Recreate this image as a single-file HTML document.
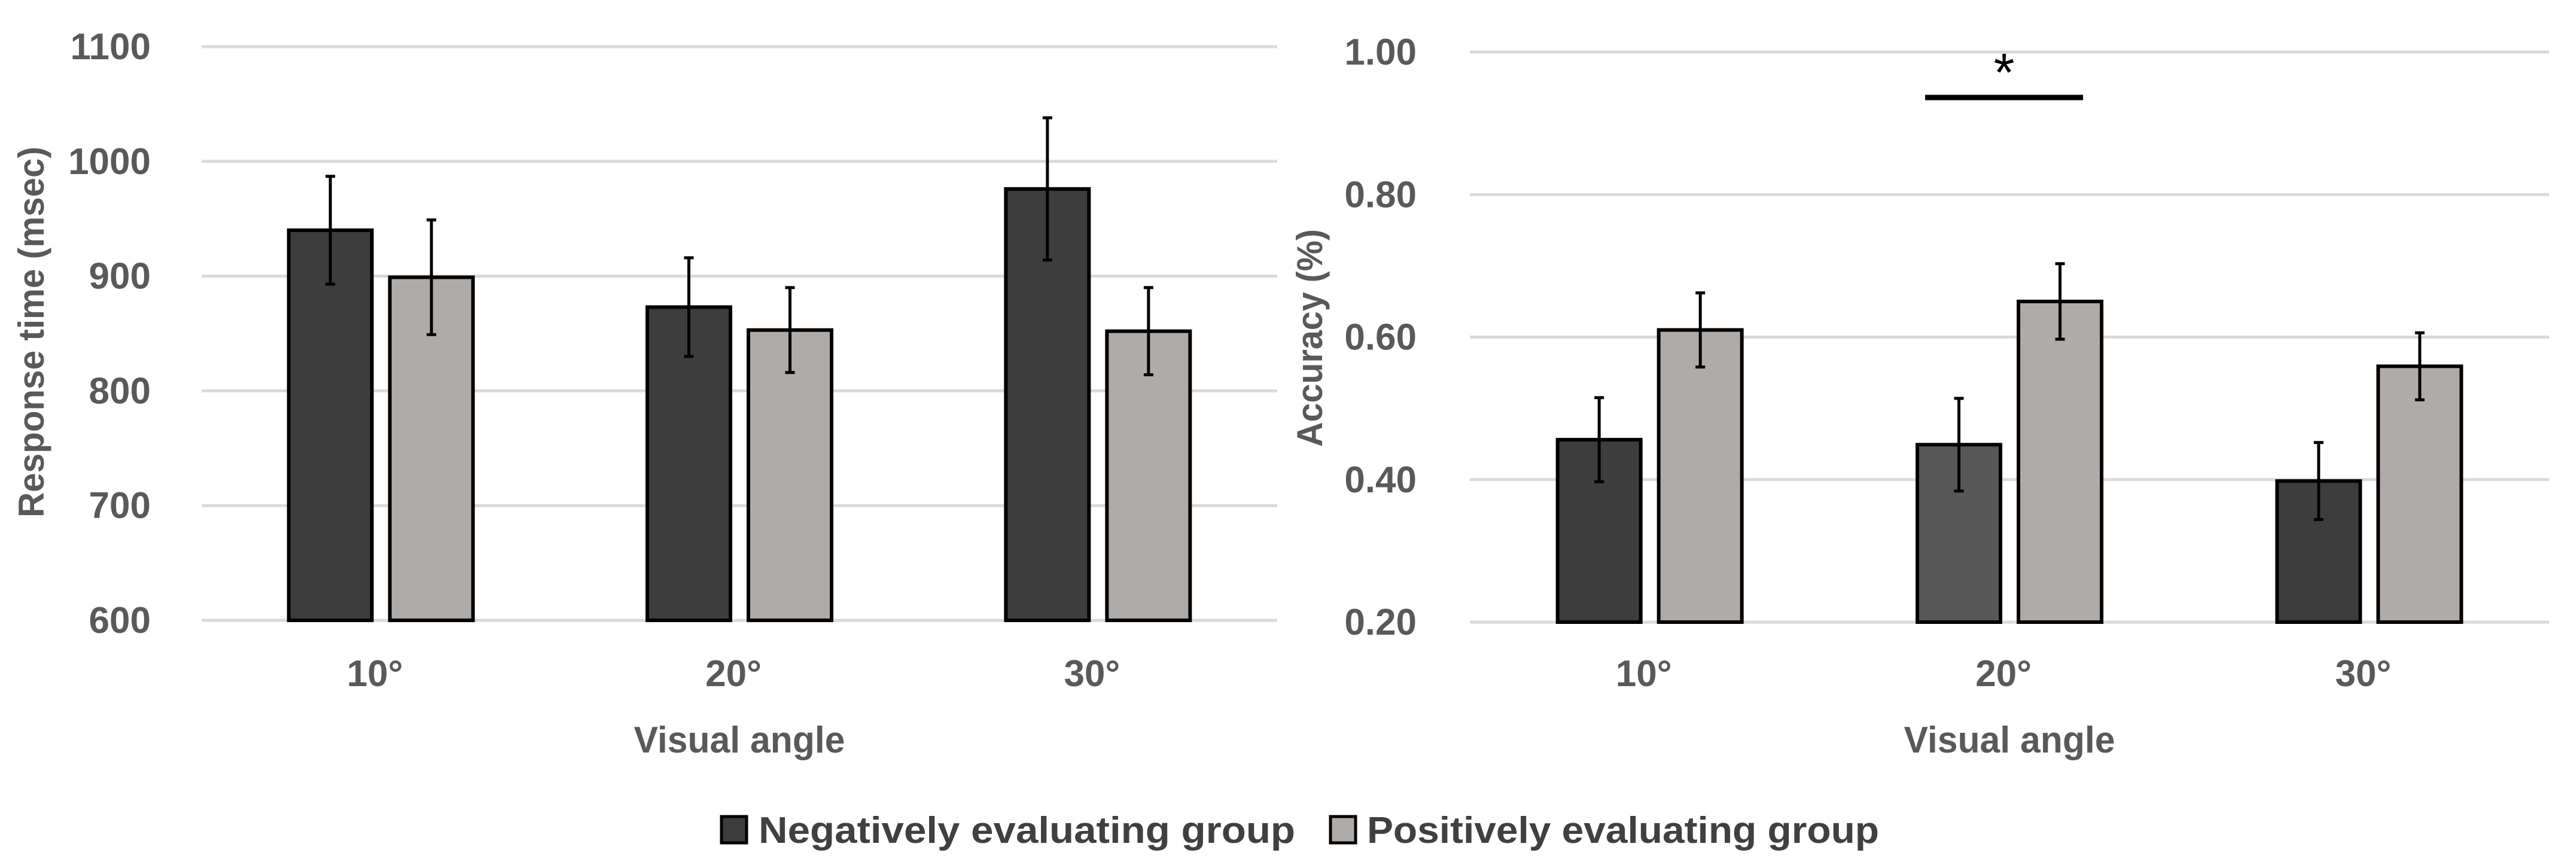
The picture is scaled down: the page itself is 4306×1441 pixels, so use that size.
<!DOCTYPE html>
<html><head><meta charset="utf-8"><style>
html,body{margin:0;padding:0;background:#fff;}
svg{display:block;font-family:"Liberation Sans",sans-serif;}
</style></head><body>
<svg id="c" width="4306" height="1441" viewBox="0 0 4306 1441"></svg>
<script>
const categories = ["10°","20°","30°"];
const rtNeg = [940, 873, 976];
const rtNegErr = [47, 43, 62];
const rtPos = [899, 853, 852];
const rtPosErr = [50, 37, 38];
const accNeg = [0.456, 0.449, 0.398];
const accNegErr = [0.059, 0.065, 0.054];
const accPos = [0.610, 0.650, 0.559];
const accPosErr = [0.052, 0.053, 0.047];
const rtTicks = [600, 700, 800, 900, 1000, 1100];
const accTicks = [0.2, 0.4, 0.6, 0.8, 1.0];
const accNegColors = ["#3d3d3d", "#575757", "#3d3d3d"];

const svg = document.getElementById('c');
const NS = "http://www.w3.org/2000/svg";
function mk(tag, attrs, parent){const e=document.createElementNS(NS,tag);for(const k in attrs)e.setAttribute(k,attrs[k]);(parent||svg).appendChild(e);return e;}

function drawPanel(p){
  const g = mk('g',{});
  
  
  const y = v => p.y0 - (v - p.min)/(p.max - p.min)*(p.y0 - p.y1);
  const cw = (p.x1 - p.x0)/categories.length;
  const cx = i => p.x0 + cw*(i+0.5);
  p.ticks.forEach(t=>{
    const l = mk('line',{x1:p.x0,x2:p.x1,y1:y(t),y2:y(t),stroke:'#d9d9d9','stroke-width':5},g);
    
    
    const tx = mk('text',{x:p.tickX,y:y(t)+21,'text-anchor':'end','font-size':62,'font-weight':'bold',fill:'#595959'},g);
    tx.textContent = p.fmt(t);
    
    
  });
  const bw = 139, gap = 15;
  function bar(i, v, e, fill, side){
    const x = side<0 ? cx(i)-gap-bw : cx(i)+gap;
    const r = mk('rect',{x:x,y:y(v),width:bw,height:y(p.min)-y(v),fill:fill,stroke:'#000','stroke-width':6},g);
    
    
    const m = x+bw/2;
    const eg = mk('g',{stroke:'#000','stroke-width':5},g);
    
    
    mk('line',{x1:m,x2:m,y1:y(v+e),y2:y(v-e)},eg);
    mk('line',{x1:m-8,x2:m+8,y1:y(v+e),y2:y(v+e)},eg);
    mk('line',{x1:m-8,x2:m+8,y1:y(v-e),y2:y(v-e)},eg);
  }
  categories.forEach((c,i)=>{
    bar(i,p.neg[i],p.negErr[i],p.negColors[i],-1);
    bar(i,p.pos[i],p.posErr[i],'#afaba8',1);
    const t = mk('text',{x:cx(i)-10,y:1147,'text-anchor':'middle','font-size':62,'font-weight':'bold',fill:'#595959'},g);
    t.textContent = c;
    
    
  });
  const xt = mk('text',{x:(p.x0+p.x1)/2,y:1258,'text-anchor':'middle','font-size':62,'font-weight':'bold',fill:'#595959',textLength:353,lengthAdjust:'spacingAndGlyphs'},g);
  xt.textContent = 'Visual angle';
  
  
  const yt = mk('text',{x:0,y:0,'text-anchor':'middle','font-size':60,'font-weight':'bold',fill:'#595959',textLength:p.ytLen,lengthAdjust:'spacingAndGlyphs',transform:`translate(${p.ytX},${p.ytY}) rotate(-90)`},g);
  yt.textContent = p.ytitle;
  
  
}

drawPanel({name:'response-time-panel',x0:337,x1:2135,y0:1037,y1:78,min:600,max:1100,ticks:rtTicks,fmt:t=>String(t),tickX:252,
  neg:rtNeg,negErr:rtNegErr,pos:rtPos,posErr:rtPosErr,negColors:["#3d3d3d","#3d3d3d","#3d3d3d"],ytitle:'Response time (msec)',ytX:73,ytY:555,ytLen:620});
drawPanel({name:'accuracy-panel',x0:2457,x1:4261,y0:1040,y1:87,min:0.2,max:1.0,ticks:accTicks,fmt:t=>t.toFixed(2),tickX:2368,
  neg:accNeg,negErr:accNegErr,pos:accPos,posErr:accPosErr,negColors:accNegColors,ytitle:'Accuracy (%)',ytX:2210,ytY:565,ytLen:364});

const sig = mk('line',{x1:3218,x2:3482,y1:163,y2:163,stroke:'#000','stroke-width':9});


const ast = mk('text',{x:3350,y:152,'text-anchor':'middle','font-size':90,fill:'#000'});
ast.textContent='*';



const lg = mk('g',{});


const l1 = mk('rect',{x:1206,y:1365,width:42,height:44,fill:'#3d3d3d',stroke:'#000','stroke-width':5},lg);


const t1 = mk('text',{x:1268,y:1409,'font-size':62,'font-weight':'bold',fill:'#404040',textLength:897,lengthAdjust:'spacingAndGlyphs'},lg);
t1.textContent='Negatively evaluating group';


const l2 = mk('rect',{x:2224,y:1365,width:42,height:44,fill:'#afaba8',stroke:'#000','stroke-width':5},lg);


const t2 = mk('text',{x:2285,y:1409,'font-size':62,'font-weight':'bold',fill:'#404040',textLength:856,lengthAdjust:'spacingAndGlyphs'},lg);
t2.textContent='Positively evaluating group';


</script>
</body></html>
